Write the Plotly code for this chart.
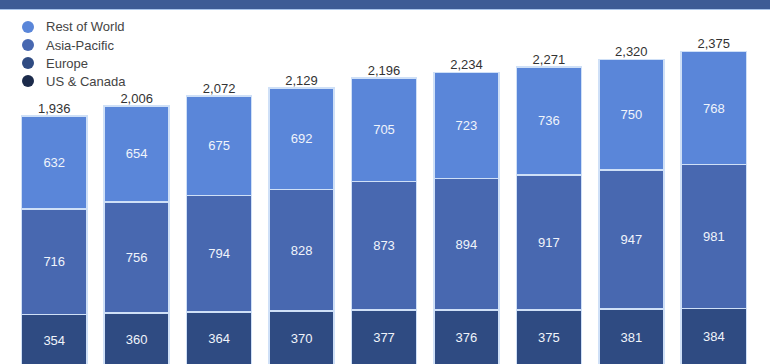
import plotly.graph_objects as go

quarters = ["Q1'17", "Q2'17", "Q3'17", "Q4'17", "Q1'18", "Q2'18", "Q3'18", "Q4'18", "Q1'19"]
us_canada = [234, 236, 239, 239, 241, 241, 243, 242, 242]
europe = [354, 360, 364, 370, 377, 376, 375, 381, 384]
asia_pacific = [716, 756, 794, 828, 873, 894, 917, 947, 981]
rest_of_world = [632, 654, 675, 692, 705, 723, 736, 750, 768]
totals = [a + b + c + d for a, b, c, d in zip(us_canada, europe, asia_pacific, rest_of_world)]

series = [
    ("US & Canada", us_canada, "#1c2b4b"),
    ("Europe", europe, "#2f4b82"),
    ("Asia-Pacific", asia_pacific, "#4868b0"),
    ("Rest of World", rest_of_world, "#5a86d9"),
]

W, H = 770, 364
ML, MR = 13, 15
FONT = "Liberation Sans, Arial, sans-serif"
fig = go.Figure()

for name, vals, color in series:
    fig.add_trace(go.Bar(
        x=quarters, y=vals, name=name, showlegend=False,
        marker=dict(color=color, line=dict(color="#cfe0f7", width=1.5)),
        text=[f"{v:,}" for v in vals], textposition="inside",
        insidetextanchor="middle", textangle=0,
        textfont=dict(family=FONT, size=13, color="#f0f4fb"),
        hoverinfo="skip",
    ))

fig.add_trace(go.Scatter(
    x=quarters, y=totals, mode="text", showlegend=False,
    text=[f"{v:,}" for v in totals], textposition="top center",
    textfont=dict(family=FONT, size=13, color="#333333"),
    hoverinfo="skip", cliponaxis=False,
))

# custom legend (circle symbols + labels), top-left
def px_x(px):
    return (px - ML) / (W - ML - MR)

def px_y(py):
    return 1 - py / H

for i, (name, vals, color) in enumerate(reversed(series)):
    cy = 27 + i * 18
    fig.add_shape(type="circle", xref="paper", yref="paper",
                  xsizemode="pixel", ysizemode="pixel",
                  xanchor=px_x(28), yanchor=px_y(cy),
                  x0=-6, x1=6, y0=-6, y1=6,
                  fillcolor=color, line=dict(width=0))
    fig.add_annotation(x=px_x(44), y=px_y(cy), xref="paper", yref="paper",
                       xanchor="left", yanchor="middle", showarrow=False,
                       text=name, font=dict(family=FONT, size=13, color="#444444"))

fig.add_shape(type="rect", xref="paper", yref="paper",
              x0=-0.05, x1=1.05, y0=1 - 9 / H, y1=1.0,
              fillcolor="#3d5b95", line=dict(width=0), layer="above")
fig.add_shape(type="line", xref="paper", yref="paper",
              x0=-0.05, x1=1.05, y0=1 - 9.5 / H, y1=1 - 9.5 / H,
              line=dict(color="#a9c4ea", width=1), layer="above")

fig.update_layout(
    width=W, height=H,
    margin=dict(l=ML, r=MR, t=0, b=0, autoexpand=False),
    barmode="stack", bargap=0.21,
    paper_bgcolor="white", plot_bgcolor="white",
    font=dict(family=FONT, size=13, color="#444444"),
    showlegend=False,
    xaxis=dict(showticklabels=False, showgrid=False, zeroline=False, showline=False),
    yaxis=dict(range=[250, 2726], showticklabels=False, showgrid=False,
               zeroline=False, showline=False),
    uniformtext=dict(minsize=8, mode="show"),
)

fig.write_html("out.html", config={"displayModeBar": False},
               post_script="document.body.style.margin='0';")
